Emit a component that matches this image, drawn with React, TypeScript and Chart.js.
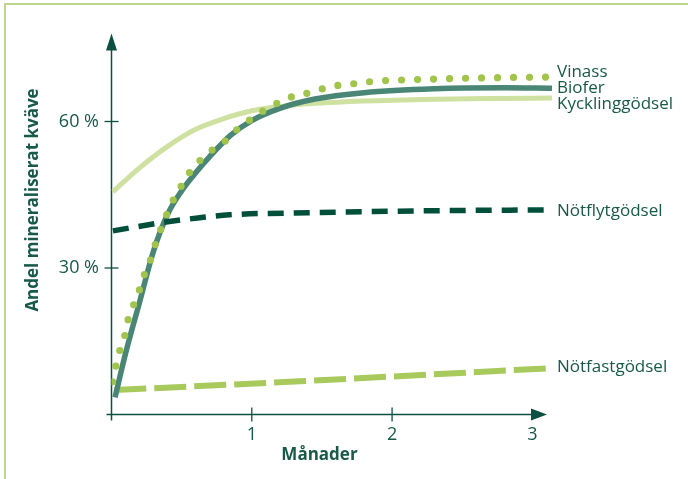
import React, { useEffect, useRef } from "react";
import { Chart, registerables } from "chart.js";

Chart.register(...registerables);

// ---- data (months, % mineralised nitrogen) ----
const seriesNames = ["Vinass", "Biofer", "Kycklinggödsel", "Nötflytgödsel", "Nötfastgödsel"];

const vinassX = [0.007, 0.03, 0.057, 0.093, 0.12, 0.157, 0.2, 0.236, 0.28, 0.314, 0.357, 0.4, 0.45, 0.51, 0.557, 0.63, 0.71, 0.81, 0.9, 1.0, 1.1, 1.2, 1.31, 1.43, 1.53, 1.64, 1.75, 1.86, 2.2, 2.6, 3.1];
const vinassY = [6.7, 9.8, 12.9, 16, 19.6, 22.4, 25.6, 28.8, 31.8, 35, 38.3, 41.4, 44.5, 47.4, 49.6, 52, 54, 56, 58.5, 60.6, 62.5, 64, 65.3, 66, 66.9, 67.5, 67.8, 68.2, 68.6, 68.9, 69.1];

const bioferX = [0.025, 0.1, 0.2, 0.3, 0.4, 0.5, 0.6, 0.7, 0.85, 1.0, 1.2, 1.45, 1.8, 2.3, 2.8, 3.14];
const bioferY = [3.5, 12.5, 23, 33.5, 41, 45.8, 49.5, 52.8, 57.2, 60.2, 62.7, 64.6, 65.9, 66.7, 66.9, 66.8];

const kycklingX = [0.01, 0.2, 0.4, 0.6, 0.8, 1.0, 1.3, 1.7, 2.2, 2.7, 3.14];
const kycklingY = [45.6, 50.5, 54.9, 58.4, 60.6, 62.2, 63.4, 64.1, 64.5, 64.7, 64.8];

const notflytX = [0.01, 0.36, 0.63, 0.84, 1.4, 2.2, 3.14];
const notflytY = [37.6, 39.3, 40.3, 40.9, 41.3, 41.7, 41.9];

const notfastX = [0.02, 1.34, 3.14];
const notfastY = [5, 6.8, 9.5];

const xTickValues = [1, 2, 3];
const yTickValues = [30, 60];
const labelValues = [69.1, 65.8, 62.6, 40.7, 8.7];

const yTitle = "Andel mineraliserat kväve";
const xTitle = "Månader";

const X_MAX = 3.14;
const Y_MAX = 78;

const TEXT = "#175a48";
const AXIS = "#0b5040";
const FONT = "'Open Sans', 'Noto Sans', sans-serif";

const pts = (xs: number[], ys: number[]) => xs.map((x, i) => ({ x, y: ys[i] }));

const decorPlugin = {
  id: "decor",
  beforeDatasetsDraw(chart: any) {
    const { ctx, chartArea, scales } = chart;
    const xs = scales.x;
    const ys = scales.y;
    const x0 = xs.getPixelForValue(0);
    const y0 = ys.getPixelForValue(0);
    ctx.save();
    ctx.strokeStyle = AXIS;
    ctx.fillStyle = AXIS;
    ctx.lineWidth = 1.5;
    // y axis
    ctx.beginPath();
    ctx.moveTo(x0, y0 + 6);
    ctx.lineTo(x0, chartArea.top + 12);
    ctx.stroke();
    // x axis
    ctx.beginPath();
    ctx.moveTo(x0 - 5, y0);
    ctx.lineTo(chartArea.right - 18, y0);
    ctx.stroke();
    // arrows
    ctx.beginPath();
    ctx.moveTo(x0, chartArea.top);
    ctx.lineTo(x0 - 5.5, chartArea.top + 17);
    ctx.lineTo(x0 + 5.5, chartArea.top + 17);
    ctx.closePath();
    ctx.fill();
    const tipX = chartArea.right - 5;
    ctx.beginPath();
    ctx.moveTo(tipX, y0);
    ctx.lineTo(tipX - 16, y0 - 6);
    ctx.lineTo(tipX - 16, y0 + 6);
    ctx.closePath();
    ctx.fill();
    // tick marks
    ctx.lineWidth = 1.3;
    yTickValues.forEach((v) => {
      const py = ys.getPixelForValue(v);
      ctx.beginPath();
      ctx.moveTo(x0 - 7, py);
      ctx.lineTo(x0 + 7, py);
      ctx.stroke();
    });
    xTickValues.slice(0, 2).forEach((v) => {
      const px = xs.getPixelForValue(v);
      ctx.beginPath();
      ctx.moveTo(px, y0 - 7);
      ctx.lineTo(px, y0 + 7);
      ctx.stroke();
    });
    ctx.restore();
  },
  afterDraw(chart: any) {
    const { ctx, chartArea, scales } = chart;
    const ys = scales.y;
    ctx.save();
    ctx.fillStyle = TEXT;
    ctx.font = `17px ${FONT}`;
    ctx.textAlign = "left";
    ctx.textBaseline = "alphabetic";
    seriesNames.forEach((name, i) => {
      ctx.fillText(name, chartArea.right + 5, ys.getPixelForValue(labelValues[i]));
    });
    ctx.font = `bold 17px ${FONT}`;
    ctx.textAlign = "center";
    ctx.textBaseline = "middle";
    ctx.fillText(xTitle, 319.5, 455);
    ctx.translate(33, 200);
    ctx.rotate(-Math.PI / 2);
    ctx.fillText(yTitle, 0, 0);
    ctx.restore();
  },
};

export default function App() {
  const ref = useRef<HTMLCanvasElement | null>(null);
  useEffect(() => {
    if (!ref.current) return;
    const chart = new Chart(ref.current, {
      type: "line",
      data: {
        datasets: [
          {
            label: seriesNames[0],
            data: pts(vinassX, vinassY),
            borderColor: "#a0c44c",
            borderWidth: 7.2,
            borderDash: [0, 16],
            borderCapStyle: "round",
            cubicInterpolationMode: "monotone",
            pointRadius: 0,
            order: 0,
          },
          {
            label: seriesNames[1],
            data: pts(bioferX, bioferY),
            borderColor: "#4a8676",
            borderWidth: 5.5,
            cubicInterpolationMode: "monotone",
            pointRadius: 0,
            order: 2,
          },
          {
            label: seriesNames[2],
            data: pts(kycklingX, kycklingY),
            borderColor: "#cfe1a1",
            borderWidth: 5,
            cubicInterpolationMode: "monotone",
            pointRadius: 0,
            order: 4,
          },
          {
            label: seriesNames[3],
            data: pts(notflytX, notflytY),
            borderColor: "#004f3b",
            borderWidth: 5.5,
            borderDash: [16, 10],
            cubicInterpolationMode: "monotone",
            pointRadius: 0,
            order: 1,
          },
          {
            label: seriesNames[4],
            data: pts(notfastX, notfastY),
            borderColor: "#a8c95b",
            borderWidth: 6,
            borderDash: [32, 8],
            cubicInterpolationMode: "monotone",
            pointRadius: 0,
            order: 3,
          },
        ],
      },
      options: {
        responsive: false,
        animation: false,
        devicePixelRatio: 1,
        layout: { padding: { top: 33.6, right: 136, left: 0, bottom: 0 } },
        plugins: { legend: { display: false }, tooltip: { enabled: false } },
        scales: {
          x: {
            type: "linear",
            min: 0,
            max: X_MAX,
            grid: { display: false, drawTicks: false },
            border: { display: false },
            afterBuildTicks: (s: any) => {
              s.ticks = xTickValues.map((v) => ({ value: v }));
            },
            afterFit: (s: any) => {
              s.height = 64.5;
            },
            ticks: {
              color: TEXT,
              font: { family: FONT, size: 18 },
              padding: 10,
              maxRotation: 0,
              callback: (v: any) => String(v),
            },
          },
          y: {
            type: "linear",
            min: 0,
            max: Y_MAX,
            grid: { display: false, drawTicks: false },
            border: { display: false },
            afterBuildTicks: (s: any) => {
              s.ticks = yTickValues.map((v) => ({ value: v }));
            },
            afterFit: (s: any) => {
              s.width = 111.5;
            },
            ticks: {
              color: TEXT,
              font: { family: FONT, size: 18 },
              padding: 12.5,
              callback: (v: any) => `${v} %`,
            },
          },
        },
      },
      plugins: [decorPlugin],
    });
    return () => chart.destroy();
  }, []);

  return (
    <div style={{ position: "fixed", left: 0, top: 0, width: 688, height: 479, overflow: "hidden", background: "#fff" }}>
      <div
        style={{
          position: "absolute",
          left: 4,
          top: 3,
          width: 760,
          height: 560,
          borderTop: "2px solid #bcd58f",
          borderLeft: "2px solid #bcd58f",
        }}
      />
      <canvas ref={ref} width={688} height={479} style={{ position: "absolute", left: 0, top: 0, width: 688, height: 479 }} />
    </div>
  );
}
